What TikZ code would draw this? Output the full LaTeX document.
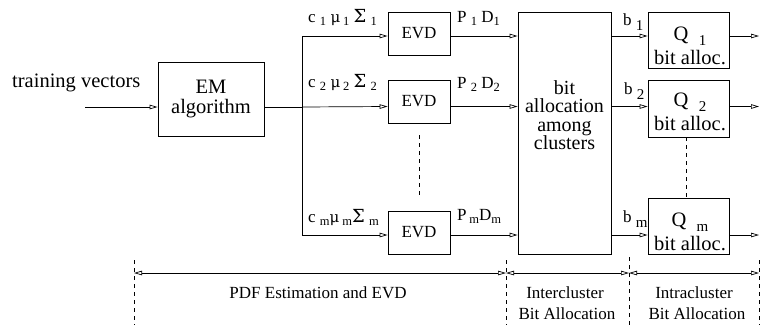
\documentclass[tikz,border=0pt]{standalone}
\usepackage{fontspec}
\setmainfont{Liberation Serif}
\newfontfamily\tms{Liberation Serif}
\newfontfamily\grk{DejaVu Serif}
\usetikzlibrary{arrows.meta}
\newcommand\sbs[2][3]{\raisebox{-#1pt}{\tms\fontsize{12.5}{12.5}\selectfont #2}}
\newcommand\sbq[1]{\raisebox{-5pt}{\tms\fontsize{15}{15}\selectfont #1}}
\newcommand\bigf{\tms\fontsize{20.5}{20}\selectfont}
\newcommand\midf{\tms\fontsize{17}{21}\selectfont}
\newcommand\lblf{\tms\fontsize{17}{17}\selectfont}
\newcommand\Sg{{\grk\fontsize{18}{18}\selectfont Σ}}
\newcommand\Mu{{\grk\fontsize{15}{15}\selectfont μ}}
\begin{document}
\begin{tikzpicture}[x=1pt,y=-1pt,
  box/.style={draw, line width=0.8pt, inner sep=0pt},
  arr/.style={line width=0.7pt, -{Triangle[open,length=8pt,width=4.5pt]}},
  darr/.style={line width=0.7pt, {Triangle[open,length=8pt,width=4.5pt]}-{Triangle[open,length=8pt,width=4.5pt]}},
  dsh/.style={line width=0.6pt, dash pattern=on 4pt off 4pt},
  ln/.style={line width=0.7pt},
  txt/.style={inner sep=0pt},
  lbl/.style={inner sep=0pt, anchor=base west, font=\lblf}]
\useasboundingbox (0,0) rectangle (760,325);

% coordinates
\coordinate (r1) at (0,36);
\coordinate (r2) at (0,106.5);
\coordinate (rm) at (0,235);
\coordinate (in) at (85,107);
\coordinate (t1) at (302,36);
\coordinate (t2) at (302,107);
\coordinate (tm) at (302,235);
\coordinate (out) at (759,0);
\coordinate (d1) at (134,260);
\coordinate (d2) at (506,260);
\coordinate (d3) at (629,257);
\coordinate (d4) at (759,260);
\coordinate (bot) at (0,325);
\coordinate (ar) at (0,273);

% ---------- all nodes (text) ----------
\node[txt, anchor=base west, font=\bigf] (tv) at (12,87) {training vectors};
\node[box, minimum width=106pt, minimum height=74pt, align=center, font=\bigf] (em) at (211,99) {EM\\algorithm};

\node[box, minimum width=62pt, minimum height=43pt, font=\midf] (evd1) at (419,33.5) {EVD};
\node[box, minimum width=62pt, minimum height=43pt, font=\midf] (evd2) at (419,101.5) {EVD};
\node[box, minimum width=62pt, minimum height=43pt, font=\midf] (evdm) at (419,232.5) {EVD};

\node[lbl] (c1) at (308,22) {c \sbs{1} \Mu\,\sbs{1} \Sg\ \sbs{1}};
\node[lbl] (c2) at (308,87) {c \sbs{2} \Mu\,\sbs{2} \Sg\ \sbs{2}};
\node[lbl] (cm) at (308,222) {c \sbs{m}\Mu\,\sbs{m}\Sg\ \sbs{m}};

\node[box, minimum width=93pt, minimum height=242pt] (ba) at (564.5,133) {};
\node[txt, align=center, font=\tms\fontsize{20}{18.4}\selectfont] (bat) at (564.5,115) {bit\\allocation\\among\\clusters};

\node[lbl] (p1) at (457,22) {P \sbs{1} D\sbs{1}};
\node[lbl] (p2) at (457,88) {P \sbs{2} D\sbs{2}};
\node[lbl] (pm) at (457,220) {P\,\sbs{m}D\sbs{m}};

\node[box, minimum width=81pt, minimum height=56pt] (q1) at (688.5,40) {};
\node[box, minimum width=81pt, minimum height=57pt] (q2) at (688.5,108.5) {};
\node[box, minimum width=81pt, minimum height=56pt] (qm) at (688.5,226) {};
\node[txt, align=center, font=\tms\fontsize{20.5}{24}\selectfont] (q1t) at (690,46) {Q \ \sbq{1}\\bit alloc.};
\node[txt, align=center, font=\tms\fontsize{20.5}{24}\selectfont] (q2t) at (690,112) {Q \ \sbq{2}\\bit alloc.};
\node[txt, align=center, font=\tms\fontsize{20.5}{24}\selectfont] (qmt) at (690,232) {Q \ \sbq{m}\\bit alloc.};

\node[lbl] (b1) at (623,25) {b \sbq{1}};
\node[lbl] (b2) at (624,94) {b \sbq{2}};
\node[lbl] (bm) at (623,222) {b \sbq{m}};

\node[txt, anchor=base, font=\midf] (pdf) at (318,298) {PDF Estimation and EVD};
\node[txt, anchor=base, font=\midf] (ic1) at (565,298) {Intercluster};
\node[txt, anchor=base, font=\midf] (ic2) at (567,319) {Bit Allocation};
\node[txt, anchor=base, font=\midf] (ia1) at (694,298) {Intracluster};
\node[txt, anchor=base, font=\midf] (ia2) at (697,319) {Bit Allocation};

% ---------- connectors ----------
\draw[arr] (in) -- (in -| em.west);
\draw[ln] (em.east |- t2) -- (t2);
\draw[ln] (t1) -- (tm);
\draw[arr] (t1) -- (evd1.west |- t1);
\draw[arr] (t2) -- (evd2.west |- r2);
\draw[arr] (tm) -- (evdm.west |- tm);
\draw[dsh] ([yshift=-12pt]evd2.south) -- ([yshift=13pt]evdm.north);

\draw[arr] (evd1.east |- r1) -- (ba.west |- r1);
\draw[arr] (evd2.east |- r2) -- (ba.west |- r2);
\draw[arr] (evdm.east |- rm) -- (ba.west |- rm);

\draw[arr] (ba.east |- r1) -- (q1.west |- r1);
\draw[arr] (ba.east |- r2) -- (q2.west |- r2);
\draw[arr] (ba.east |- rm) -- (qm.west |- rm);
\draw[arr] (q1.east |- r1) -- (out |- r1);
\draw[arr] (q2.east |- r2) -- (out |- r2);
\draw[arr] (qm.east |- rm) -- (out |- rm);
\draw[dsh] ([xshift=-2.5pt]q2.south) -- ([xshift=-2.5pt]qm.north);

\draw[dsh] (d1) -- (d1 |- bot);
\draw[dsh] (d2) -- (d2 |- bot);
\draw[dsh] (d3) -- (d3 |- bot);
\draw[dsh] (d4) -- (d4 |- bot);
\draw[darr] (d1 |- ar) -- (d2 |- ar);
\draw[darr] (d2 |- ar) -- (d3 |- ar);
\draw[darr] (d3 |- ar) -- (d4 |- ar);
\end{tikzpicture}
\end{document}
